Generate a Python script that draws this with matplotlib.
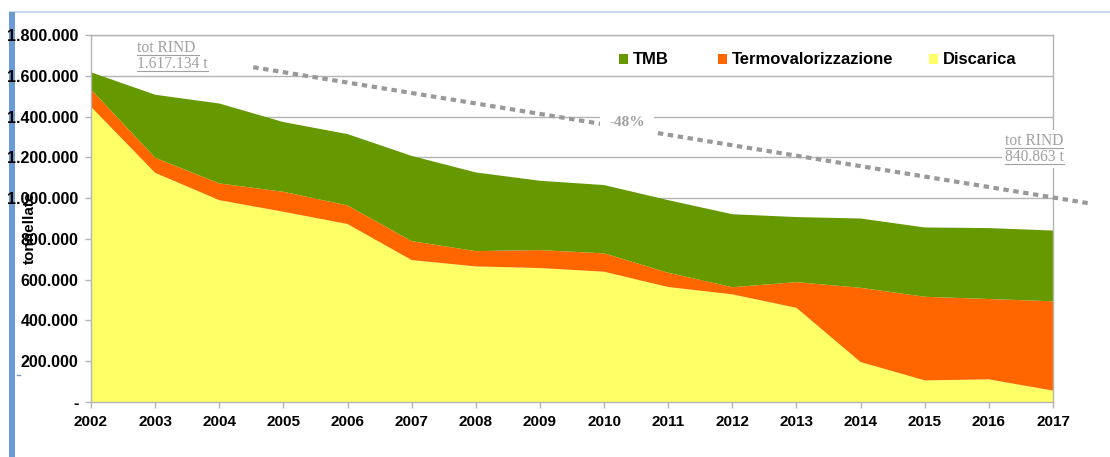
import matplotlib
matplotlib.use("Agg")
import matplotlib.pyplot as plt
from matplotlib.patches import Patch, Rectangle
from matplotlib.lines import Line2D

years = list(range(2002, 2018))
year_labels = [str(y) for y in years]
# tonnes
discarica = [1448000, 1124000, 990000, 933000, 873000, 696000, 665000, 657000,
             639000, 564000, 528000, 462000, 196000, 106000, 111000, 56000]
termovalorizzazione = [85000, 74000, 82000, 98000, 91000, 93000, 75000, 88000,
                       90000, 70000, 35000, 126000, 364000, 410000, 394000, 438000]
tmb = [84134, 309000, 392000, 342000, 350000, 418000, 386000, 340000,
       335000, 356000, 358000, 319000, 340000, 340000, 348000, 346863]
series_names = ["TMB", "Termovalorizzazione", "Discarica"]
yticks = [0, 200000, 400000, 600000, 800000, 1000000, 1200000, 1400000, 1600000, 1800000]
ytick_labels = ["-", "200.000", "400.000", "600.000", "800.000", "1.000.000",
                "1.200.000", "1.400.000", "1.600.000", "1.800.000"]
trend_start = (2004.53, 1642000)
trend_end = (2017.55, 975000)

GREEN = "#669900"
ORANGE = "#ff6600"
YELLOW = "#ffff66"
GRID = "#b4b4b4"
ANN = "#a0a0a0"

W, H = 1110, 457
fig = plt.figure(figsize=(W / 100, H / 100), dpi=100)
ax = fig.add_axes([91 / W, 1 - 402 / H, (1053 - 91) / W, (402 - 35) / H])

ax.stackplot(years, discarica, termovalorizzazione, tmb,
             colors=[YELLOW, ORANGE, GREEN], linewidth=0)
ax.set_xlim(years[0], years[-1])
ax.set_ylim(0, 1800000)
ax.set_axisbelow(True)
ax.yaxis.grid(True, color=GRID, lw=1)
for s in ax.spines.values():
    s.set_color(GRID)
    s.set_linewidth(1)
ax.set_xticks(years)
ax.set_xticklabels(year_labels, fontsize=11, fontweight="bold", family="Liberation Sans")
ax.set_yticks(yticks)
ax.set_yticklabels(ytick_labels, fontsize=11.6, fontweight="bold", family="Liberation Sans")
ax.tick_params(axis="both", color=GRID, length=4, width=1)
ax.tick_params(axis="y", pad=5)
ax.tick_params(axis="x", pad=5)

ax.set_ylabel("tonnellate", fontsize=11, fontweight="bold", family="Liberation Sans")
ax.yaxis.set_label_coords((37 - 91) / 962, (402 - 228) / 367)

# legends
cols = {"TMB": GREEN, "Termovalorizzazione": ORANGE, "Discarica": YELLOW}
lx = {"TMB": 619, "Termovalorizzazione": 718, "Discarica": 929}
for name in series_names:
    lg = fig.legend(handles=[Patch(facecolor=cols[name], edgecolor="none", label=name)],
                    loc="center left", bbox_to_anchor=(lx[name] / W, 1 - 60 / H),
                    bbox_transform=fig.transFigure, frameon=False, borderpad=0,
                    borderaxespad=0, handlelength=0.55, handleheight=0.55,
                    handletextpad=0.3,
                    prop={"family": "Liberation Sans", "weight": "bold", "size": 12})

# trend line
ax.plot([trend_start[0], trend_end[0]], [trend_start[1], trend_end[1]],
        color="#999999", lw=3, ls=(0, (1.3, 1.1)), clip_on=False, zorder=5,
        solid_capstyle="butt", dash_capstyle="butt")

serif = {"family": "Liberation Serif", "size": 11.2, "color": ANN}
t1 = fig.text(137 / W, 1 - 52 / H, "tot RIND ", **serif, va="baseline")
t2 = fig.text(137 / W, 1 - 68 / H, "1.617.134 t", **serif, va="baseline")
t3 = fig.text(1005 / W, 1 - 145 / H, "tot RIND", **serif, va="baseline", zorder=6,
              bbox=dict(facecolor="white", edgecolor="none", pad=2))
t4 = fig.text(1005 / W, 1 - 161 / H, "840.863 t", **serif, va="baseline", zorder=6,
              bbox=dict(facecolor="white", edgecolor="none", pad=2))
fig.text(627 / W, 1 - 123 / H, "-48%", family="Liberation Serif", size=11,
         color=ANN, fontweight="bold", ha="center", va="center", zorder=10,
         bbox=dict(facecolor="white", edgecolor="none", boxstyle="square,pad=0.6"))

# decorations
fig.patches.append(Rectangle((9 / W, 0), 6 / W, 1 - 12 / H, transform=fig.transFigure,
                             facecolor="#6b9bd5", edgecolor="none", zorder=-1))
fig.lines.append(Line2D([10 / W, 1], [1 - 12 / H, 1 - 12 / H], transform=fig.transFigure,
                        color="#c8d7ea", lw=1.5, zorder=-1))
fig.lines.append(Line2D([17 / W, 20 / W], [1 - 375 / H, 1 - 375 / H], transform=fig.transFigure,
                        color="#6b9bd5", lw=1))

# underline annotation texts
fig.canvas.draw()
r = fig.canvas.get_renderer()
for t in (t1, t2, t3, t4):
    bb = t.get_window_extent(r)
    yb = bb.y0 + 1
    fig.lines.append(Line2D([bb.x0 / W, bb.x1 / W], [yb / H, yb / H],
                            transform=fig.transFigure, color=ANN, lw=0.8, zorder=7))

fig.savefig("out.png", dpi=100, facecolor="white")
